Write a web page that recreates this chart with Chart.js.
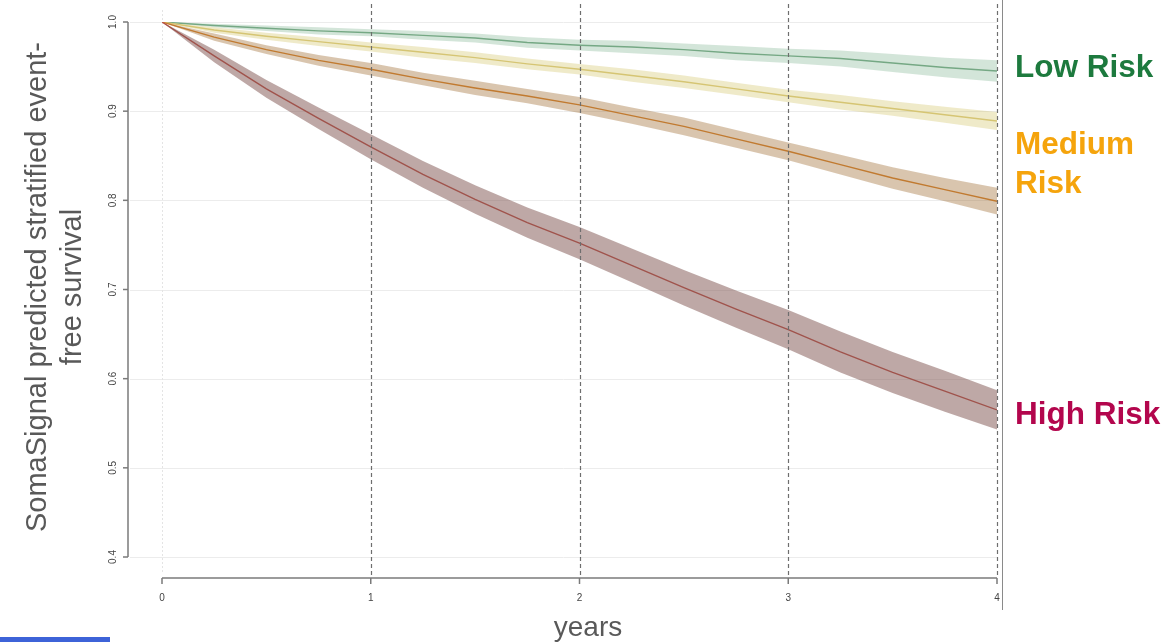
<!DOCTYPE html>
<html>
<head>
<meta charset="utf-8">
<script src="https://cdn.jsdelivr.net/npm/chart.js@4/dist/chart.umd.min.js"></script>
<style>
  html, body { margin: 0; padding: 0; background: #ffffff; }
  #wrap { width: 1170px; height: 642px; position: relative; }
</style>
</head>
<body>
<div id="wrap"><canvas id="survChart" width="1170" height="642"></canvas></div>
<script>
// follow-up time (years)
const years = [0, 0.25, 0.5, 0.75, 1, 1.25, 1.5, 1.75, 2, 2.25, 2.5, 2.75, 3, 3.25, 3.5, 3.75, 4];

// predicted event-free survival per risk group, with confidence limits
const lowRisk      = [1.000, 0.996, 0.993, 0.990, 0.988, 0.985, 0.982, 0.977, 0.974, 0.972, 0.969, 0.965, 0.962, 0.959, 0.954, 0.949, 0.945];
const lowRiskLo    = [1.000, 0.994, 0.990, 0.986, 0.984, 0.980, 0.977, 0.971, 0.968, 0.965, 0.962, 0.957, 0.954, 0.950, 0.944, 0.938, 0.933];
const lowRiskHi    = [1.000, 0.998, 0.996, 0.994, 0.992, 0.990, 0.987, 0.983, 0.980, 0.979, 0.976, 0.973, 0.970, 0.968, 0.964, 0.960, 0.957];

const medLowRisk   = [1.000, 0.991, 0.984, 0.978, 0.972, 0.966, 0.960, 0.953, 0.947, 0.940, 0.933, 0.925, 0.917, 0.910, 0.903, 0.896, 0.889];
const medLowRiskLo = [1.000, 0.988, 0.980, 0.973, 0.967, 0.960, 0.954, 0.947, 0.941, 0.933, 0.926, 0.918, 0.910, 0.902, 0.895, 0.887, 0.879];
const medLowRiskHi = [1.000, 0.994, 0.988, 0.983, 0.977, 0.972, 0.966, 0.959, 0.953, 0.947, 0.940, 0.932, 0.924, 0.918, 0.911, 0.905, 0.899];

const medHighRisk   = [1.000, 0.983, 0.969, 0.957, 0.947, 0.936, 0.926, 0.917, 0.907, 0.895, 0.883, 0.869, 0.855, 0.840, 0.825, 0.812, 0.799];
const medHighRiskLo = [1.000, 0.979, 0.964, 0.951, 0.940, 0.929, 0.918, 0.909, 0.898, 0.886, 0.873, 0.859, 0.845, 0.829, 0.813, 0.799, 0.784];
const medHighRiskHi = [1.000, 0.987, 0.974, 0.963, 0.954, 0.943, 0.934, 0.925, 0.916, 0.904, 0.893, 0.879, 0.865, 0.851, 0.837, 0.825, 0.814];

const highRisk   = [1.000, 0.962, 0.925, 0.892, 0.860, 0.829, 0.801, 0.775, 0.752, 0.727, 0.702, 0.678, 0.655, 0.630, 0.607, 0.586, 0.565];
const highRiskLo = [1.000, 0.955, 0.915, 0.880, 0.846, 0.814, 0.785, 0.758, 0.734, 0.708, 0.682, 0.657, 0.633, 0.607, 0.584, 0.563, 0.543];
const highRiskHi = [1.000, 0.969, 0.935, 0.904, 0.874, 0.844, 0.817, 0.792, 0.770, 0.746, 0.722, 0.699, 0.677, 0.653, 0.630, 0.609, 0.587];

const xTicks = [0, 1, 2, 3, 4];
const yTicks = [0.4, 0.5, 0.6, 0.7, 0.8, 0.9, 1.0];

const groupLabels = [
    { lines: ['Low Risk'], color: '#1d7a3e', y: 77 },
    { lines: ['Medium', 'Risk'], color: '#f5a40c', y: 154 },
    { lines: ['High Risk'], color: '#b3064d', y: 424 }
];

function pts(vals) {
    return vals.map((v, i) => ({ x: years[i], y: v }));
}

// each group: lower limit, upper limit filled down to lower, then the estimate
function group(est, lo, hi, line, band) {
    return [
        { data: pts(lo), borderWidth: 0, pointRadius: 0, fill: false },
        { data: pts(hi), borderWidth: 0, pointRadius: 0, fill: '-1', backgroundColor: band },
        { data: pts(est), borderColor: line, borderWidth: 1.4, pointRadius: 0, fill: false }
    ];
}

const datasets = [].concat(
    group(highRisk, highRiskLo, highRiskHi, '#c2554b', 'rgba(125,82,78,0.5)'),
    group(medHighRisk, medHighRiskLo, medHighRiskHi, '#d98a3a', 'rgba(150,95,30,0.36)'),
    group(medLowRisk, medLowRiskLo, medLowRiskHi, '#d8c67c', 'rgba(210,195,100,0.35)'),
    group(lowRisk, lowRiskLo, lowRiskHi, '#79a886', 'rgba(110,170,130,0.30)')
);

// base-graphics style axes, guides and text
const decorations = {
    id: 'decorations',
    beforeDatasetsDraw(chart) {
        const ctx = chart.ctx;
        const xs = chart.scales.x, ys = chart.scales.y;
        const left = xs.getPixelForValue(0), right = xs.getPixelForValue(4);
        ctx.save();
        // light horizontal grid
        ctx.strokeStyle = '#ececec';
        ctx.lineWidth = 1;
        yTicks.forEach(v => {
            const y = Math.round(ys.getPixelForValue(v)) + 0.5;
            ctx.beginPath(); ctx.moveTo(130, y); ctx.lineTo(right, y); ctx.stroke();
        });
        // faint dotted line at time zero
        ctx.setLineDash([2, 2]);
        ctx.strokeStyle = '#e4e4e4';
        ctx.beginPath(); ctx.moveTo(left + 0.5, 10); ctx.lineTo(left + 0.5, 572); ctx.stroke();
        ctx.restore();
    },
    afterDatasetsDraw(chart) {
        const ctx = chart.ctx;
        const xs = chart.scales.x, ys = chart.scales.y;
        const left = xs.getPixelForValue(0), right = xs.getPixelForValue(4);
        const top = ys.getPixelForValue(1.0), bottom = ys.getPixelForValue(0.4);
        const axisX = 128, axisY = 578;
        ctx.save();

        // dashed year markers
        ctx.strokeStyle = '#6e6e6e';
        ctx.lineWidth = 1.2;
        ctx.setLineDash([4, 3]);
        xTicks.slice(1).forEach(v => {
            const x = Math.round(xs.getPixelForValue(v)) + 0.5;
            ctx.beginPath(); ctx.moveTo(x, 4); ctx.lineTo(x, axisY); ctx.stroke();
        });
        ctx.setLineDash([]);

        // solid divider right of the plot
        ctx.strokeStyle = '#8a8a8a';
        ctx.lineWidth = 1;
        ctx.beginPath(); ctx.moveTo(1002.5, 0); ctx.lineTo(1002.5, 610); ctx.stroke();

        // y axis
        ctx.strokeStyle = '#7a7a7a';
        ctx.lineWidth = 1.5;
        ctx.beginPath(); ctx.moveTo(axisX, top); ctx.lineTo(axisX, bottom); ctx.stroke();
        yTicks.forEach(v => {
            const y = ys.getPixelForValue(v);
            ctx.beginPath(); ctx.moveTo(axisX - 5, y); ctx.lineTo(axisX, y); ctx.stroke();
        });
        // x axis
        ctx.beginPath(); ctx.moveTo(left, axisY); ctx.lineTo(right, axisY); ctx.stroke();
        xTicks.forEach(v => {
            const x = xs.getPixelForValue(v);
            ctx.beginPath(); ctx.moveTo(x, axisY); ctx.lineTo(x, axisY + 6); ctx.stroke();
        });

        // tick labels
        ctx.fillStyle = '#444444';
        ctx.font = '10px "Liberation Sans", Arial, sans-serif';
        ctx.textAlign = 'center';
        ctx.textBaseline = 'middle';
        xTicks.forEach(v => {
            ctx.fillText(String(v), xs.getPixelForValue(v), 598);
        });
        yTicks.forEach(v => {
            ctx.save();
            ctx.translate(113, ys.getPixelForValue(v));
            ctx.rotate(-Math.PI / 2);
            ctx.fillText(v.toFixed(1), 0, 0);
            ctx.restore();
        });

        // axis titles
        ctx.fillStyle = '#595959';
        ctx.textBaseline = 'alphabetic';
        ctx.font = '29px "Liberation Sans", Arial, sans-serif';
        ctx.save();
        ctx.translate(0, 287);
        ctx.rotate(-Math.PI / 2);
        ctx.fillText('SomaSignal predicted stratified event-', 0, 46);
        ctx.fillText('free survival', 0, 81);
        ctx.restore();
        ctx.font = '28px "Liberation Sans", Arial, sans-serif';
        ctx.fillText('years', 588, 636);

        // group labels
        ctx.textAlign = 'left';
        ctx.font = 'bold 31.5px "Liberation Sans", Arial, sans-serif';
        groupLabels.forEach(g => {
            ctx.fillStyle = g.color;
            g.lines.forEach((t, i) => ctx.fillText(t, 1015, g.y + i * 39));
        });

        // slide accent bar
        ctx.fillStyle = '#3d63d8';
        ctx.fillRect(0, 637, 110, 5);
        ctx.restore();
    }
};

const ctx = document.getElementById('survChart').getContext('2d');
const survChart = new Chart(ctx, {
    type: 'line',
    data: { datasets: datasets },
    options: {
        responsive: false,
        animation: false,
        layout: { padding: { left: 162, right: 173, top: 22, bottom: 85 } },
        plugins: { legend: { display: false }, tooltip: { enabled: false } },
        elements: { line: { tension: 0 } },
        scales: {
            x: { type: 'linear', min: 0, max: 4, display: false },
            y: { type: 'linear', min: 0.4, max: 1.0, display: false }
        }
    },
    plugins: [decorations]
});
</script>
</body>
</html>
